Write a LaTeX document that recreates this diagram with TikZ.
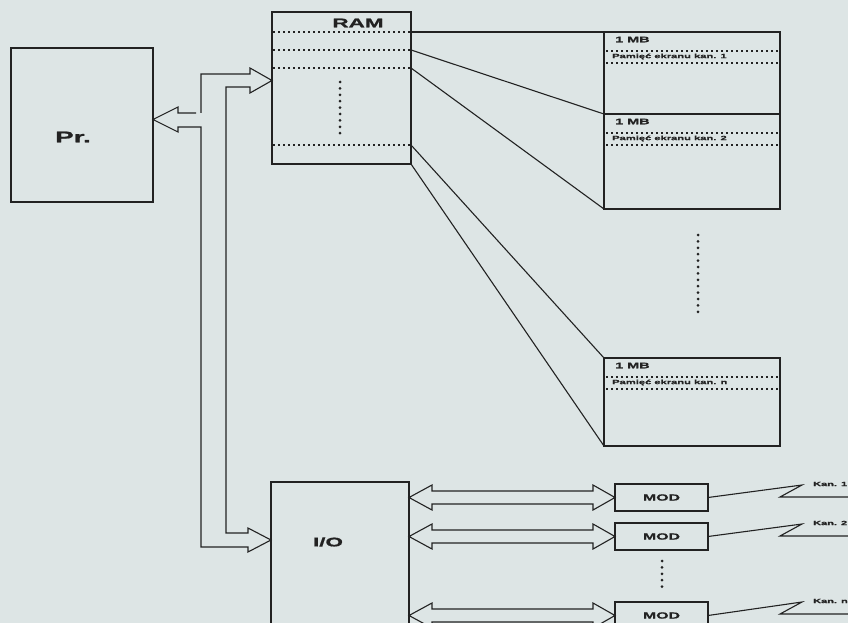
\documentclass[tikz,border=0pt]{standalone}
\usepackage{fontspec}
\newfontfamily\wf[FakeStretch=1.8,FakeBold=1.2]{Liberation Sans}
\usetikzlibrary{calc}
\definecolor{bg}{HTML}{DDE5E5}
\definecolor{ink}{HTML}{222222}
\begin{document}
\begin{tikzpicture}[x=1pt,y=-1pt,
  box/.style={draw=ink, line width=1.3pt, inner sep=0pt, outer sep=0pt, anchor=north west},
  lbl/.style={text=ink, inner sep=0pt},
  dotln/.style={draw=ink, line width=1.1pt, dash pattern=on 2pt off 3pt},
  bigdots/.style={draw=ink, line width=3pt, line cap=round, dash pattern=on 0pt off 6.4pt},
  conn/.style={draw=ink, line width=1.1pt},
  fat/.style={draw=ink, line width=1.1pt, line join=miter}]
\clip (0,0) rectangle (848,623);
\fill[bg] (0,0) rectangle (848,623);
\useasboundingbox (0,0) rectangle (848,623);

% boxes
\node[box, minimum width=142pt, minimum height=154pt] (pr) at (11,48) {};
\node[lbl, font=\wf\bfseries\fontsize{15.5}{17}\selectfont] (prl) at (73,137) {Pr.};

\node[box, minimum width=139pt, minimum height=152pt] (ram) at (272,12) {};
\node[lbl, font=\wf\bfseries\fontsize{12.5}{14}\selectfont] (raml) at (358,23) {RAM};
\foreach \yy in {32,50,68,145} \draw[dotln] (273,\yy) -- (410,\yy);
\draw[bigdots] (340,82) -- (340,134);

\node[box, minimum width=176pt, minimum height=82pt] (b1) at (604,32) {};
\node[box, minimum width=176pt, minimum height=95pt] (b2) at (604,114) {};
\node[box, minimum width=176pt, minimum height=88pt] (bn) at (604,358) {};
\foreach \b/\t/\k in {b1/32/1, b2/114/2, bn/358/n} {
  \draw[dotln] (606,\t+19) -- (779,\t+19);
  \draw[dotln] (606,\t+31) -- (779,\t+31);
  \node[lbl, anchor=west, font=\wf\bfseries\fontsize{8}{9}\selectfont] at (615,\t+7.5) {1 MB};
  \node[lbl, anchor=west, font=\wf\bfseries\fontsize{6.2}{7}\selectfont] at (612,\t+24.5) {Pamięć ekranu kan. \k};
}
\draw[bigdots] (698,235) -- (698,316);

% RAM to blocks
\draw[conn] (ram.east |- 0,32) -- (b1.north west);
\draw[conn] (ram.east |- 0,50) -- (b2.north west);
\draw[conn] (ram.east |- 0,68) -- (b2.south west);
\draw[conn] (ram.east |- 0,145) -- (bn.north west);
\draw[conn] (ram.south east) -- (bn.south west);

% I/O
\node[box, minimum width=138pt, minimum height=220pt] (io) at (271,482) {};
\node[lbl, font=\wf\bfseries\fontsize{12.5}{14}\selectfont] (iol) at (328,542) {I/O};

% bus
\draw[fat] (196,113) -- (178,113) -- (178,107) -- (pr.east |- 0,119.5) -- (178,132) -- (178,127)
  -- (201,127) -- (201,547) -- (248,547) -- (248,552) -- (io.west |- 0,540) -- (248,528)
  -- (248,533) -- (226,533) -- (226,87) -- (250,87) -- (250,93) -- (ram.west |- 0,80.5)
  -- (250,68) -- (250,74) -- (201,74) -- (201,113);

% MOD units
\node[box, minimum width=93pt, minimum height=27pt] (mod1) at (615,484) {};
\node[box, minimum width=93pt, minimum height=27pt] (mod2) at (615,523) {};
\node[box, minimum width=93pt, minimum height=27pt] (modn) at (615,602) {};
\foreach \m in {mod1,mod2,modn}
  \node[lbl, font=\wf\bfseries\fontsize{8.8}{10}\selectfont] at (\m.center) {MOD};
\draw[bigdots] (662,561) -- (662,588);

\foreach \m/\yy in {mod1/497.5, mod2/536.5, modn/615.5} {
  \draw[fat] (io.east |- 0,\yy) -- (432,\yy-12.5) -- (432,\yy-6.5) -- (593,\yy-6.5) -- (593,\yy-12.5)
    -- (\m.west |- 0,\yy) -- (593,\yy+12.5) -- (593,\yy+6.5) -- (432,\yy+6.5) -- (432,\yy+12.5) -- cycle;
}

% channels
\foreach \m/\yy/\k in {mod1/497/1, mod2/536/2, modn/614/n} {
  \draw[conn] (\m.east) -- (802,\yy-12) -- (780,\yy) -- (852,\yy);
  \node[lbl, anchor=west, font=\wf\bfseries\fontsize{6.1}{7}\selectfont] at (813,\yy-13) {Kan. \k};
}
\end{tikzpicture}
\end{document}
